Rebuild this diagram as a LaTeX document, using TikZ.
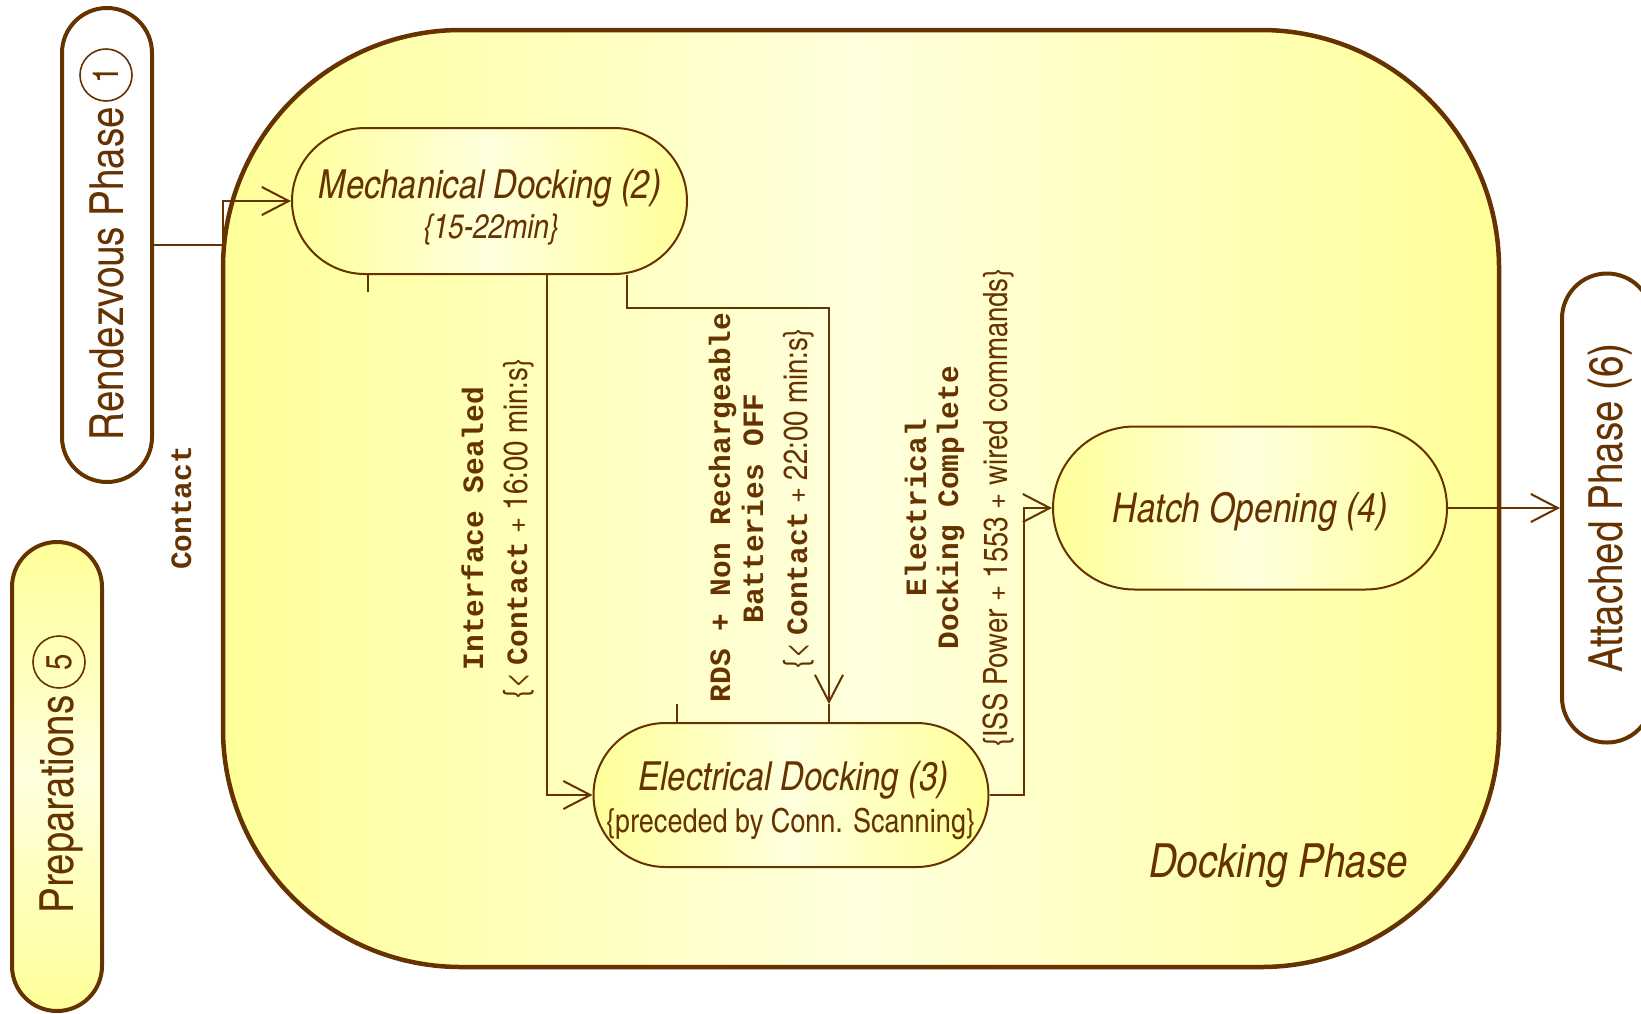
\documentclass[tikz,border=0pt]{standalone}
\usepackage{fontspec}
\setmainfont{TeX Gyre Heros Cn}
\newfontfamily\codefont{Liberation Mono}
\usetikzlibrary{shapes.misc,arrows.meta}

\definecolor{brn}{HTML}{663300}
\definecolor{ylw}{HTML}{FFFF99}
\definecolor{lite}{HTML}{FFFFDD}

\begin{document}
\begin{tikzpicture}[x=1pt,y=-1pt,
  every node/.style={text=brn},
  phasebox/.style={rounded rectangle, draw=brn, line width=4pt,
    minimum height=90pt, rotate=90, inner sep=0pt},
  phasetext/.style={rotate=90, anchor=base, inner sep=0pt,
    font=\fontsize{47}{47}\selectfont},
  numcirc/.style={circle, draw=brn, line width=1.6pt, minimum size=52pt,
    inner sep=0pt, rotate=90, font=\fontsize{36}{36}\selectfont},
  actnode/.style={rounded rectangle, draw=brn, line width=2pt,
    left color=ylw, right color=ylw, middle color=lite,
    minimum width=395pt, inner sep=0pt},
  acttitle/.style={anchor=base, inner sep=0pt,
    font=\itshape\fontsize{40}{40}\selectfont},
  actsub/.style={anchor=base, inner sep=0pt,
    font=\fontsize{33}{33}\selectfont},
  codelab/.style={rotate=90, anchor=base, inner sep=0pt,
    font=\codefont\bfseries\fontsize{29.5}{30}\selectfont},
  guardlab/.style={rotate=90, anchor=base, inner sep=0pt,
    font=\fontsize{33.5}{33.5}\selectfont},
  wire/.style={draw=brn, line width=2pt},
  conn/.style={wire, -{Straight Barb[length=27pt, width=28pt]}}
]
\useasboundingbox (0,0) rectangle (1641,1013);
\clip (0,0) rectangle (1641,1013);

% outer composite state
\node[draw=brn, line width=4.5pt, rounded corners=238pt,
      left color=ylw, right color=ylw, middle color=lite,
      minimum width=1276pt, minimum height=937pt, inner sep=0pt]
      (dock) at (861,498.5) {};
\node[acttitle, font=\itshape\fontsize{47}{47}\selectfont]
      (docktxt) at (1278.5,877) {Docking Phase};

% neighbouring phases
\node[phasebox, minimum width=474pt, fill=white] (rdv) at (107,245) {};
\node[phasetext] (rdvtxt) at (123.5,273.5) {Rendezvous Phase};
\node[numcirc] (rdvnum) at (106,75) {1};

\node[phasebox, minimum width=469pt,
      top color=ylw, bottom color=ylw, middle color=lite] (prep) at (57,776.5) {};
\node[phasetext] (preptxt) at (73,804.5) {Preparations};
\node[numcirc] (prepnum) at (59,662) {5};

\node[phasebox, minimum width=469pt, fill=white] (att) at (1607,508) {};
\node[phasetext] (atttxt) at (1622,508) {Attached Phase (6)};

% activities
\node[actnode, minimum height=146pt] (mech) at (489.5,201) {};
\node[acttitle] (mechtitle) at (490,198) {Mechanical Docking (2)};
\node[acttitle, font=\itshape\fontsize{34}{34}\selectfont]
      (mechdur) at (491,238) {\{15-22min\}};

\node[actnode, minimum height=144pt] (elec) at (791,795) {};
\node[acttitle] (electitle) at (793.5,790) {Electrical Docking (3)};
\node[actsub] (elecsub) at (790.5,832) {\{preceded by Conn. Scanning\}};

\node[actnode, minimum width=394pt, minimum height=163pt] (hatch) at (1250,508) {};
\node[acttitle, font=\itshape\fontsize{41}{41}\selectfont]
      (hatchtitle) at (1250,522) {Hatch Opening (4)};

% transitions
\draw[conn] (rdv.south) -- ++(69,0) |- (mech.west);
\draw[conn] ([xshift=57.5pt]mech.south) |- (elec.west);
\draw[conn] ([xshift=137.5pt]mech.south) -- ++(0,33)
      -| ([xshift=38pt,yshift=18pt]elec.north);
\draw[wire] ([xshift=38pt,yshift=18pt]elec.north) -- ([xshift=38pt]elec.north);
\draw[conn] (elec.east) -- ++(34,0) |- (hatch.west);
\draw[conn] (hatch.east) -- (att.north);

% stubs of the contact transition
\draw[wire] ([xshift=-121.5pt]mech.south) -- ++(0,17);
\draw[wire] ([xshift=-114pt]elec.north) -- ++(0,-18);

% transition labels
\node[codelab] (contactlab) at (191,508) {Contact};

\node[codelab] (sealA) at (483,528.5) {Interface Sealed};
\node[guardlab] (sealB) at (527,528.5)
      {\{< {\codefont\bfseries\fontsize{29.5}{30}\selectfont Contact} + 16:00 min:s\}};

\node[codelab] (rdsA) at (730,507.5) {RDS + Non Rechargeable};
\node[codelab] (rdsB) at (763,508.5) {Batteries OFF};
\node[guardlab] (rdsC) at (807,498.5)
      {\{< {\codefont\bfseries\fontsize{29.5}{30}\selectfont Contact} + 22:00 min:s\}};

\node[codelab] (edcA) at (926,507.5) {Electrical};
\node[codelab] (edcB) at (958,507.5) {Docking Complete};
\node[guardlab] (edcC) at (1007,508) {\{ISS Power + 1553 + wired commands\}};
\end{tikzpicture}
\end{document}
